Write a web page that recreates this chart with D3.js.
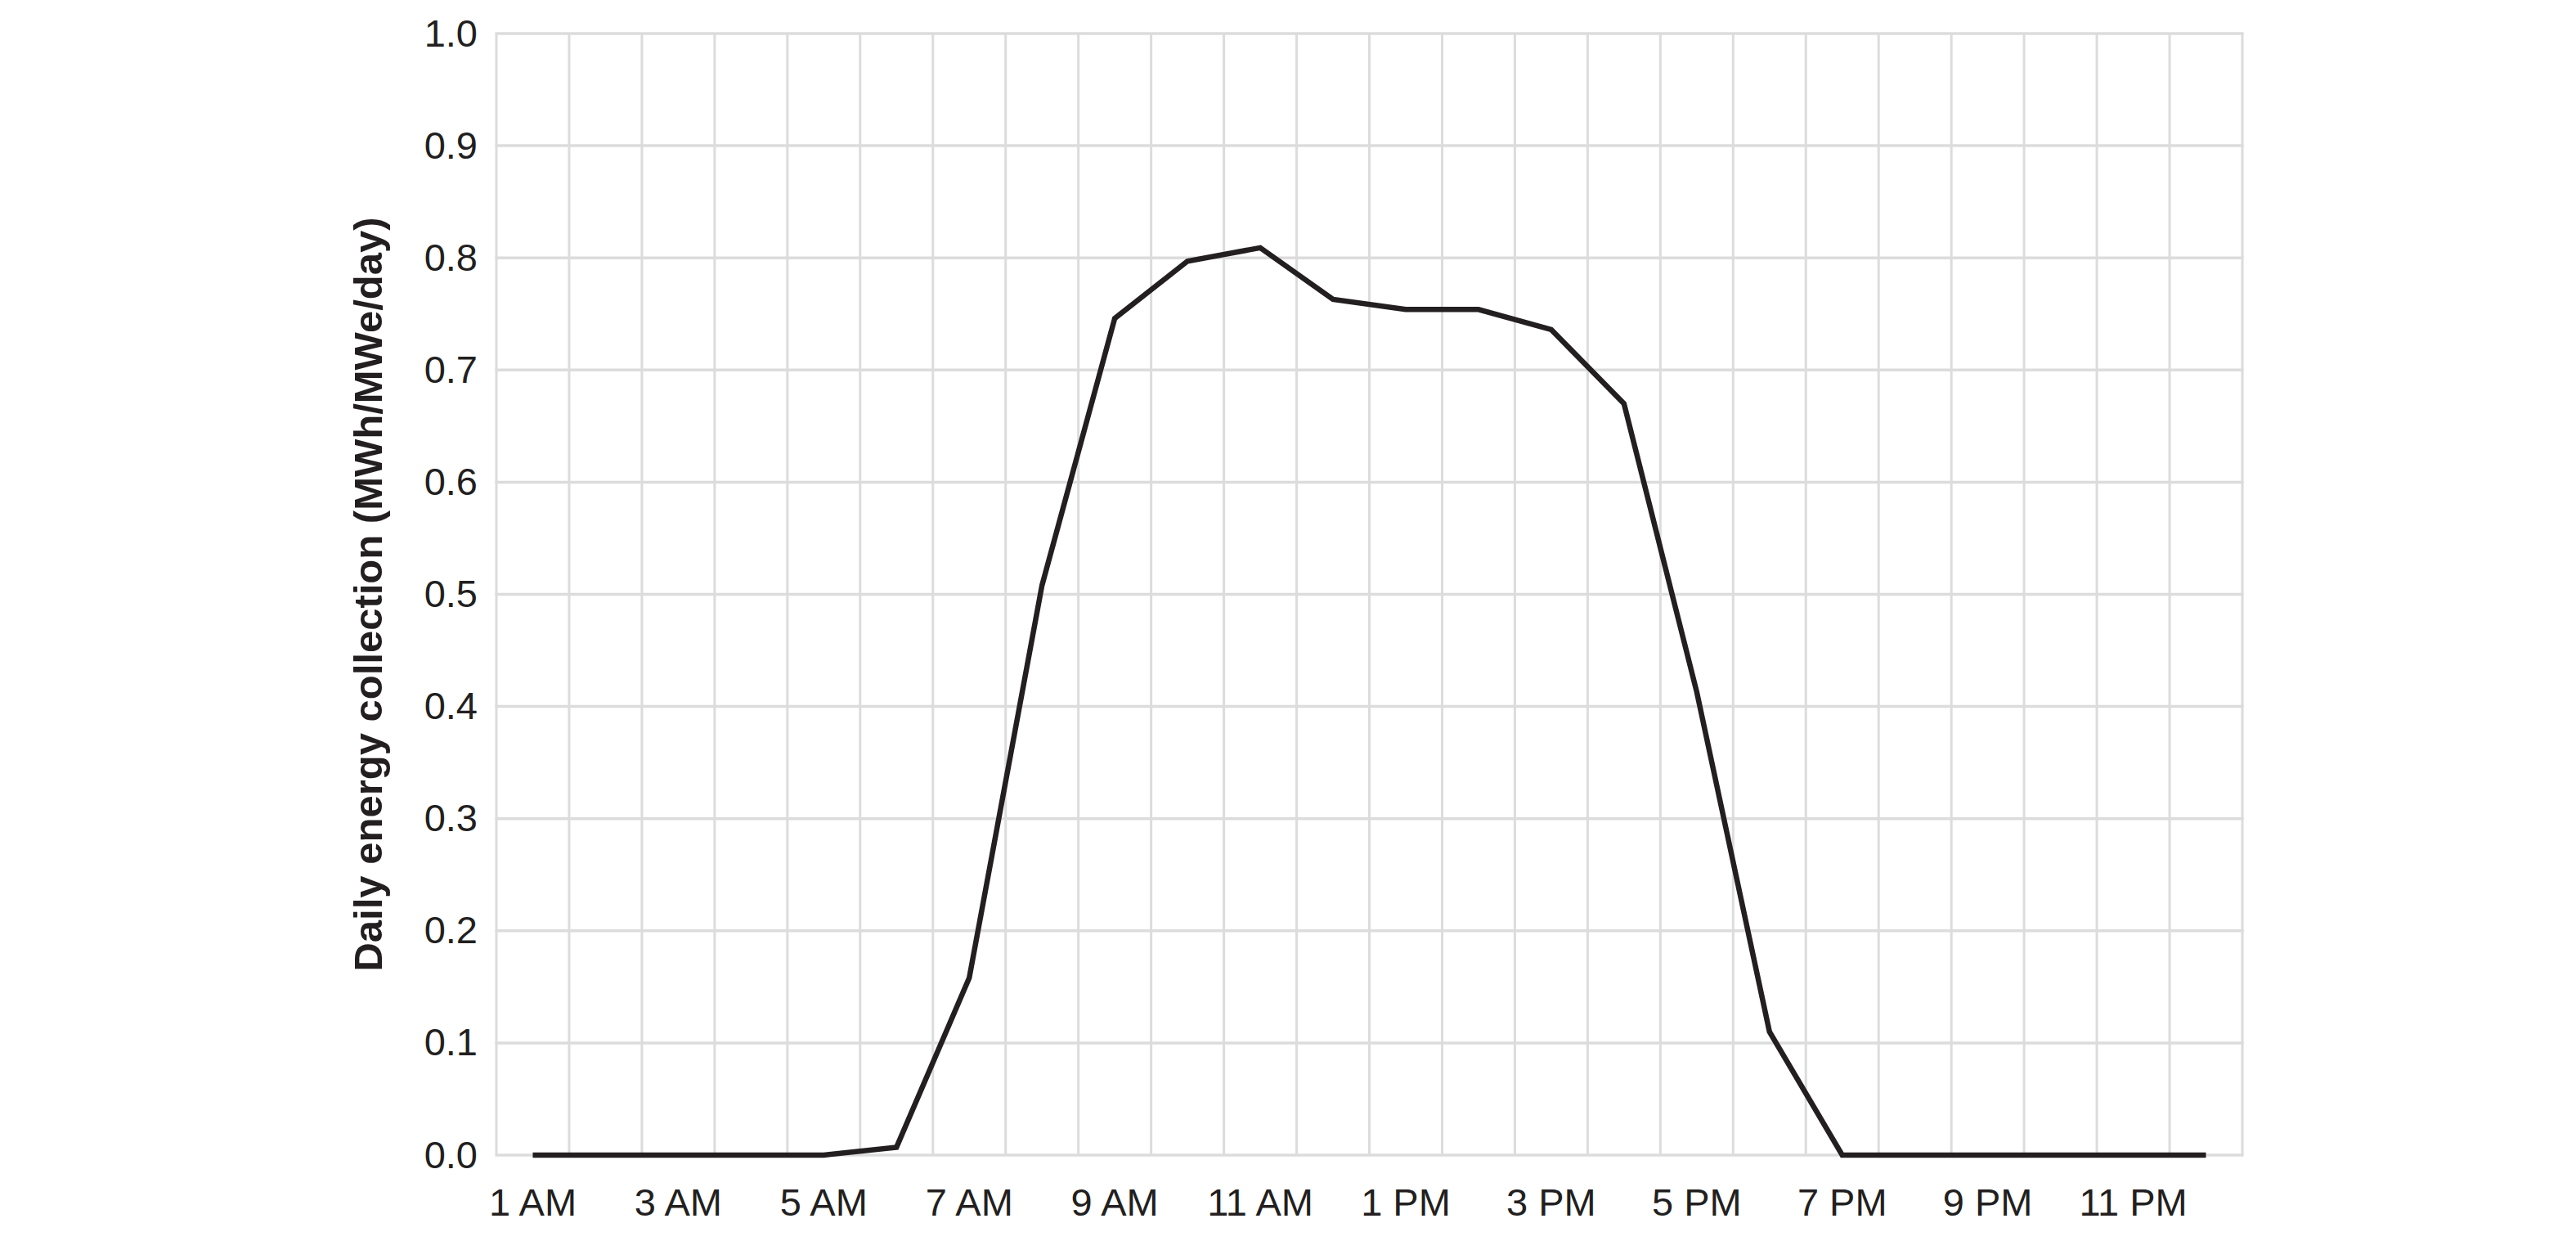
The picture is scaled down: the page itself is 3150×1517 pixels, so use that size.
<!DOCTYPE html>
<html>
<head>
<meta charset="utf-8">
<script src="https://cdn.jsdelivr.net/npm/d3@7"></script>
<style>
  html, body { margin: 0; padding: 0; background: #ffffff; }
  svg { display: block; }
</style>
</head>
<body>
<svg id="chart" width="3150" height="1517"></svg>
<script>
// ---- data ----
const hours = ["1 AM","2 AM","3 AM","4 AM","5 AM","6 AM","7 AM","8 AM","9 AM","10 AM","11 AM","12 PM",
               "1 PM","2 PM","3 PM","4 PM","5 PM","6 PM","7 PM","8 PM","9 PM","10 PM","11 PM","12 AM"];
const energy = [0, 0, 0, 0, 0, 0.007, 0.158, 0.508, 0.746, 0.797, 0.809, 0.763,
                0.754, 0.754, 0.736, 0.670, 0.413, 0.110, 0, 0, 0, 0, 0, 0];
const xTickLabels = ["1 AM","3 AM","5 AM","7 AM","9 AM","11 AM","1 PM","3 PM","5 PM","7 PM","9 PM","11 PM"];
const yTicks = [0, 0.1, 0.2, 0.3, 0.4, 0.5, 0.6, 0.7, 0.8, 0.9, 1.0];
const yTitle = "Daily energy collection (MWh/MWe/day)";

// ---- layout ----
const W = 3150, H = 1517;
const margin = { left: 607, right: W - 2742, top: 41, bottom: H - 1412 };
const svg = d3.select("#chart");
const font = "'Liberation Sans', Arial, Helvetica, sans-serif";
const gridColor = "#dcdcdc";
const ink = "#231f20";

const x = d3.scaleBand().domain(hours).range([margin.left, W - margin.right]).padding(0);
const y = d3.scaleLinear().domain([0, 1]).range([H - margin.bottom, margin.top]);

// vertical grid lines at band boundaries
const bounds = hours.map(h => x(h)).concat([x(hours[hours.length - 1]) + x.bandwidth()]);
svg.append("g").selectAll("line").data(bounds).join("line")
  .attr("x1", d => d).attr("x2", d => d)
  .attr("y1", y(0)).attr("y2", y(1))
  .attr("stroke", gridColor).attr("stroke-width", 3);

// horizontal grid lines
svg.append("g").selectAll("line").data(yTicks).join("line")
  .attr("x1", x.range()[0] - 1.5).attr("x2", x.range()[1] + 1.5)
  .attr("y1", d => y(d)).attr("y2", d => y(d))
  .attr("stroke", gridColor).attr("stroke-width", 3.5);

// y axis labels
const yAxis = d3.axisLeft(y).tickValues(yTicks).tickFormat(d3.format(".1f")).tickSize(0).tickPadding(23);
const gy = svg.append("g").attr("transform", `translate(${margin.left},0)`).call(yAxis);
gy.select(".domain").remove();
gy.selectAll("text").attr("font-family", font).attr("font-size", 47).attr("fill", ink);

// x axis labels
const xAxis = d3.axisBottom(x).tickValues(xTickLabels).tickSize(0).tickPadding(41);
const gx = svg.append("g").attr("transform", `translate(0,${H - margin.bottom})`).call(xAxis);
gx.select(".domain").remove();
gx.selectAll("text").attr("font-family", font).attr("font-size", 47).attr("fill", ink);

// y title
svg.append("text")
  .attr("transform", `translate(467,${(y(0) + y(1)) / 2}) rotate(-90)`)
  .attr("text-anchor", "middle")
  .attr("font-family", font).attr("font-weight", "bold").attr("font-size", 49)
  .attr("fill", ink)
  .text(yTitle);

// line
const line = d3.line()
  .x((d, i) => x(hours[i]) + x.bandwidth() / 2)
  .y(d => y(d));
svg.append("path").datum(energy)
  .attr("d", line)
  .attr("fill", "none")
  .attr("stroke", ink)
  .attr("stroke-width", 6.5)
  .attr("stroke-linejoin", "miter");
</script>
</body>
</html>
